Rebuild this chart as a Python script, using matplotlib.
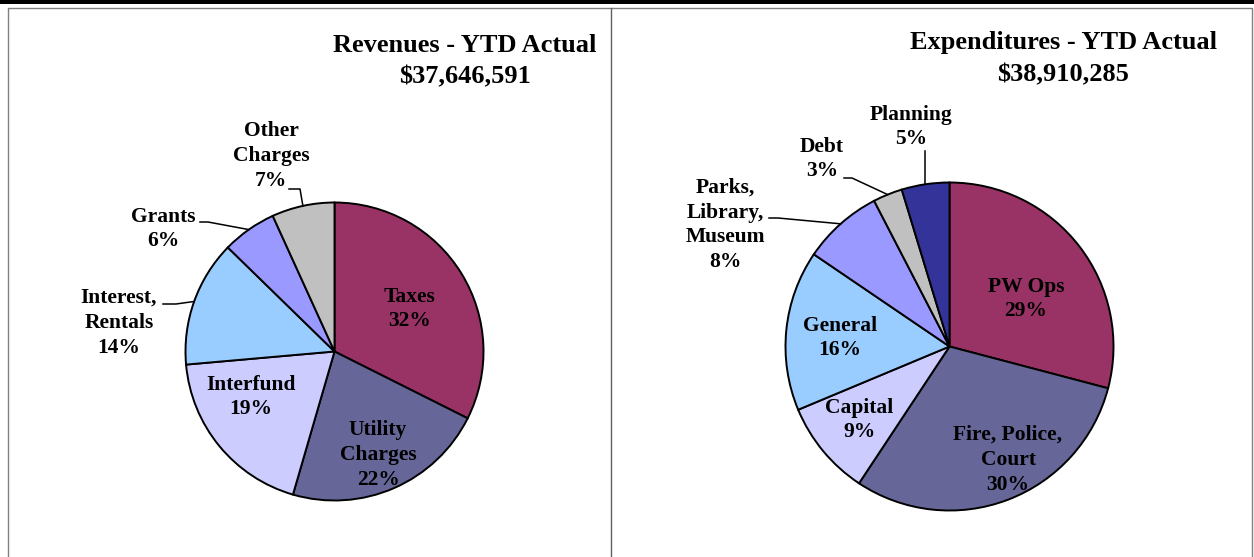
import numpy as np
import matplotlib.pyplot as plt

# revenue data
rev_labels = ['Taxes', 'Utility\nCharges', 'Interfund', 'Interest,\nRentals', 'Grants', 'Other\nCharges']
rev_vals = [32.4, 22.1, 19.1, 13.7, 5.9, 6.8]
rev_title = 'Revenues - YTD Actual\n$37,646,591'

# expenditure data
exp_labels = ['PW Ops', 'Fire, Police,\nCourt', 'Capital', 'General', 'Parks,\nLibrary,\nMuseum', 'Debt', 'Planning']
exp_vals = [29.1, 30.2, 9.4, 15.8, 7.9, 2.9, 4.7]
exp_title = 'Expenditures - YTD Actual\n$38,910,285'

rev_colors = ['#993366', '#666699', '#CCCCFF', '#99CCFF', '#9999FF', '#C0C0C0']
exp_colors = ['#993366', '#666699', '#CCCCFF', '#99CCFF', '#9999FF', '#C0C0C0', '#333399']

W, H = 1254, 557
fig = plt.figure(figsize=(W / 100, H / 100), dpi=100)
ax = fig.add_axes([0, 0, 1, 1])

font = dict(family='Liberation Serif', fontweight='bold')

def Y(y):
    # pixel row (top down) -> data y
    return H - y

def pct(v, vals):
    return '%d%%' % round(100.0 * v / sum(vals))

wp = dict(edgecolor='black', linewidth=1.4)
rev_w, _ = ax.pie(rev_vals, colors=rev_colors, startangle=90, counterclock=False,
                  center=(334.5, Y(351.5)), radius=149, wedgeprops=wp)
exp_w, _ = ax.pie(exp_vals, colors=exp_colors, startangle=90, counterclock=False,
                  center=(949.5, Y(346.5)), radius=164, wedgeprops=wp)

def edge(w):
    a = np.deg2rad((w.theta1 + w.theta2) / 2)
    return w.center[0] + w.r * np.cos(a), w.center[1] + w.r * np.sin(a)

def leader(w, x0, x1, y):
    ex, ey = edge(w)
    ax.plot([x0, x1, ex], [Y(y), Y(y), ey], color='black', lw=1.1)

# text positions (pixel coords of label centres)
rev_pos = [(410, 309), (378, 455), (251, 397), (119, 323), (163, 229), (271, 156)]
exp_pos = [(1026, 299), (1008, 460), (859, 420), (840, 338), (725, 225), (822, 159), (911, 127)]

for lab, v, (x, y) in zip(rev_labels, rev_vals, rev_pos):
    ax.text(x, Y(y), lab + '\n' + pct(v, rev_vals), ha='center', va='center',
            fontsize=15.5, linespacing=1.33, **font)
for lab, v, (x, y) in zip(exp_labels, exp_vals, exp_pos):
    ax.text(x, Y(y), lab + '\n' + pct(v, exp_vals), ha='center', va='center',
            fontsize=15.5, linespacing=1.33, **font)

leader(rev_w[5], 289, 300, 189)
leader(rev_w[4], 200, 208, 222)
leader(rev_w[3], 163, 176, 304)
leader(exp_w[5], 844, 852, 178)
leader(exp_w[4], 769, 778, 218)
ex, ey = edge(exp_w[6])
ax.plot([ex, ex], [Y(151), ey], color='black', lw=1.1)

ax.text(465, Y(61), rev_title, ha='center', va='center', fontsize=19, linespacing=1.5, **font)
ax.text(1063, Y(59), exp_title, ha='center', va='center', fontsize=19, linespacing=1.5, **font)

# frame
ax.fill_between([0, W], Y(0), Y(4), color='black', lw=0)
ax.plot([8, 8, W - 2, W - 2], [0, Y(7.5), Y(7.5), 0], color='#808080', lw=1.0)
ax.plot([611, 611], [0, Y(7.5)], color='#606060', lw=1.0)

ax.set_xlim(0, W)
ax.set_ylim(0, H)
ax.set_aspect('equal')
ax.axis('off')

fig.savefig('out.png', dpi=100)
